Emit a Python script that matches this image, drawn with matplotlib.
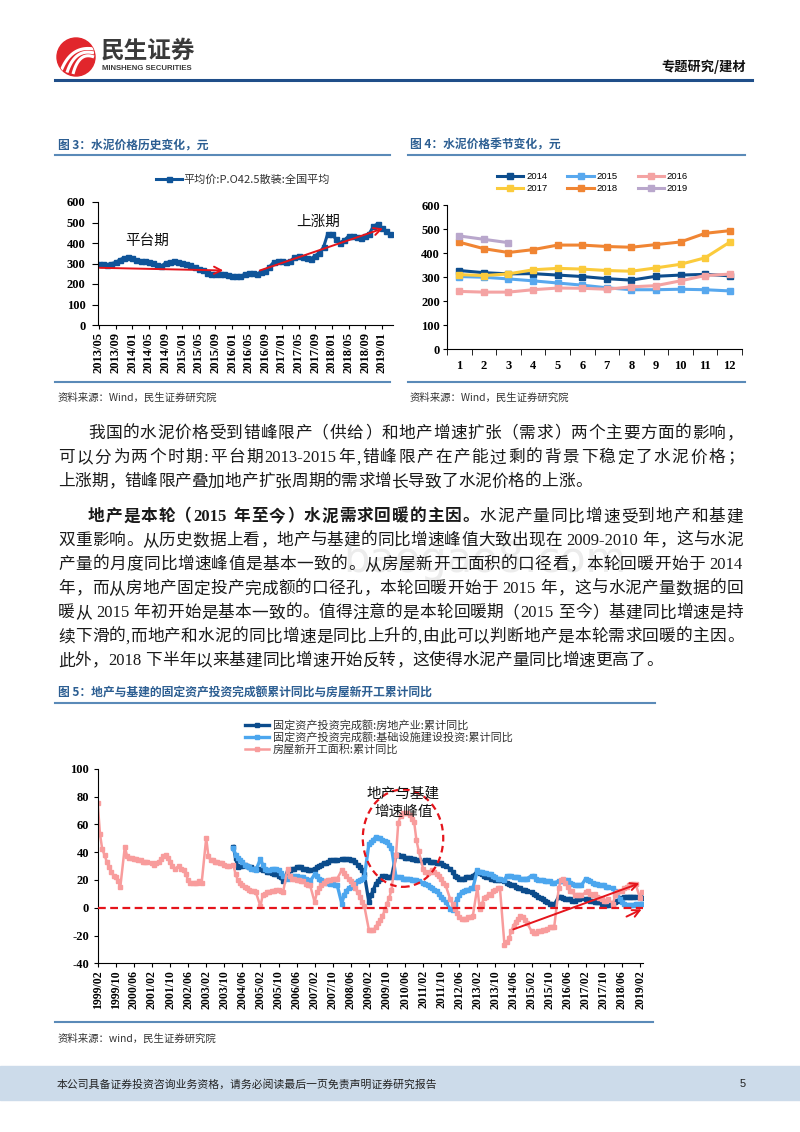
import numpy as np
import pandas as pd
import matplotlib
matplotlib.use('Agg')
import matplotlib.pyplot as plt
from matplotlib.patches import Ellipse, Circle, Rectangle

W, H = 800, 1132
CJK = 'Noto Sans CJK SC'
SERIF = 'Liberation Serif'
plt.rcParams['font.family'] = [CJK, 'DejaVu Sans']
plt.rcParams['axes.unicode_minus'] = False

# ---- 图3 / 图4: 水泥价格 (元) ----
price_2013 = [300, 298, 295, 300, 305, 318, 328, 330]   # 2013/05 - 2013/12
price_2014 = [327, 318, 313, 314, 308, 302, 293, 287, 303, 308, 311, 305]
price_2015 = [302, 299, 292, 284, 275, 266, 255, 247, 247, 249, 247, 242]
price_2016 = [240, 237, 237, 247, 254, 253, 249, 259, 264, 284, 306, 312]
price_2017 = [310, 306, 313, 330, 336, 333, 327, 324, 338, 353, 380, 445]
price_2018 = [445, 418, 402, 414, 433, 433, 427, 424, 435, 446, 482, 493]
price_2019 = [471, 457, 443]
season_years = ['2014', '2015', '2016', '2017', '2018', '2019']
season_colors = ['#0D4D8D', '#58A8EE', '#F4A3A3', '#FBCB3C', '#F08533', '#B9A7CC']

# ---- 图5: 累计同比 (%), 每年 2-12 月 (无 1 月) ----
starts_yoy = [  # 房屋新开工面积:累计同比, 1999/02 - 2019/03
    75, 53, 42, 38, 33, 29, 26, 23, 22, 19, 15,    # 1999
    44, 37, 36, 36, 35, 35, 34, 34, 33, 33, 33,    # 2000
    32, 31, 32, 33, 35, 37, 38, 36, 33, 30, 28,    # 2001
    30, 28, 27, 24, 20, 18, 18, 18, 18, 19, 18,    # 2002
    50, 37, 34, 34, 33, 33, 32, 32, 31, 30, 30,    # 2003
    31, 24, 20, 18, 16, 15, 14, 13, 12, 12, 11,    # 2004
    1, 9, 10, 11, 11, 12, 12, 13, 13, 12, 11,      # 2005
    28, 23, 21, 21, 20, 20, 19, 19, 17, 16, 16,    # 2006
    4, 11, 14, 16, 18, 19, 20, 20, 21, 21, 21,     # 2007
    27, 25, 23, 21, 19, 17, 14, 11, 8, 4, 1,       # 2008
    -16, -16, -16, -14, -11, -9, -6, -2, 3, 7, 13, # 2009
    38, 61, 66, 68, 68, 68, 67, 64, 62, 49, 41,    # 2010
    28, 26, 25, 26, 27, 26, 24, 23, 21, 18, 16,    # 2011
    6, 3, -1, -4, -7, -8, -8, -8, -7, -7, -6,      # 2012
    15, -1, 3, 7, 8, 10, 9, 12, 13, 14, 14,        # 2013
    -27, -25, -22, -17, -13, -10, -8, -6, -7, -9, -11,  # 2014
    -17, -18, -18, -17, -17, -16, -16, -15, -14, -14, -14,  # 2015
    14, 20, 21, 18, 15, 12, 12, 9, 9, 9, 9,        # 2016
    11, 12, 10, 9, 10, 8, 7, 6, 5, 5, 6,           # 2017
    3, 9, 11, 12, 12, 14, 15, 16, 17, 17, 17,      # 2018
    7, 11,                                         # 2019
]
realty_yoy = [  # 固定资产投资完成额:房地产业:累计同比, 2004/02 - 2019/03
    44, 36, 29, 30, 30, 31, 30, 29, 29, 28, 28,    # 2004
    28, 27, 27, 26, 26, 25, 24, 24, 23, 22, 19,    # 2005
    26, 27, 28, 28, 29, 29, 29, 28, 28, 27, 27,    # 2006
    28, 29, 30, 31, 32, 32, 33, 34, 34, 34, 34,    # 2007
    35, 35, 35, 35, 34, 34, 33, 31, 29, 27, 24,    # 2008
    4, 9, 13, 17, 19, 21, 23, 23, 22, 22, 22,      # 2009
    38, 38, 37, 37, 36, 36, 36, 35, 35, 34, 34,    # 2010
    33, 34, 34, 33, 33, 33, 32, 32, 32, 31, 30,    # 2011
    28, 26, 23, 22, 21, 21, 21, 22, 22, 22, 23,    # 2012
    26, 25, 24, 23, 22, 22, 21, 21, 20, 20, 20,    # 2013
    19, 18, 17, 16, 16, 15, 14, 14, 13, 13, 12,    # 2014
    11, 10, 9, 8, 7, 6, 5, 4, 3, 3, 2,             # 2015
    8, 8, 7, 6, 6, 6, 5, 5, 6, 6, 7,               # 2016
    6, 6, 5, 5, 4, 4, 4, 3, 3, 2, 2,               # 2017
    3, 4, 5, 6, 7, 8, 8, 8, 8, 8, 8,               # 2018
    8, 7,                                          # 2019
]
infra_yoy = [  # 固定资产投资完成额:基础设施建设投资:累计同比, 2004/02 - 2019/03
    43, 38, 36, 34, 33, 31, 30, 29, 28, 28, 27,    # 2004
    35, 31, 28, 27, 27, 28, 28, 28, 27, 25, 23,    # 2005
    21, 22, 23, 23, 23, 22, 22, 22, 21, 20, 19,    # 2006
    24, 23, 21, 20, 19, 18, 18, 17, 17, 16, 16,    # 2007
    3, 9, 12, 14, 15, 16, 18, 19, 20, 21, 22,      # 2008
    46, 47, 49, 51, 50, 50, 49, 48, 47, 45, 43,    # 2009
    22, 22, 22, 21, 21, 21, 21, 20, 20, 20, 19,    # 2010
    18, 17, 16, 15, 14, 13, 12, 10, 8, 6, 4,       # 2011
    -1, -2, 3, 6, 9, 11, 12, 13, 13, 14, 14,       # 2012
    27, 26, 26, 25, 25, 24, 24, 23, 22, 21, 21,    # 2013
    20, 23, 23, 23, 22, 22, 22, 21, 21, 21, 21,    # 2014
    23, 23, 21, 20, 20, 20, 19, 19, 19, 18, 18,    # 2015
    19, 19, 19, 20, 20, 18, 17, 16, 16, 16, 16,    # 2016
    21, 20, 19, 18, 17, 17, 16, 16, 16, 15, 15,    # 2017
    14, 12, 9, 6, 4, 3, 2, 2, 2, 2, 3,             # 2018
    3, 3,                                          # 2019
]

RED = '#E5141B'


def px_axes(x0, y0, x1, y1):
    ax = fig.add_axes([x0 / W, 1 - y1 / H, (x1 - x0) / W, (y1 - y0) / H])
    ax.set_facecolor('none')
    for s in ['top', 'right']:
        ax.spines[s].set_visible(False)
    return ax


def month_pos(start, n):
    d = pd.date_range(start, periods=n + n // 11 + 3, freq='MS')
    d = d[d.month != 1][:n]
    return np.asarray((d.year - 1999) * 12 + d.month - 2)


fig = plt.figure(figsize=(W / 100, H / 100), dpi=100)
page = fig.add_axes([0, 0, 1, 1])
page.set_xlim(0, W)
page.set_ylim(H, 0)
page.axis('off')
renderer = fig.canvas.get_renderer()

# ---------------- header ----------------
logo = Circle((76, 57), 19, color='#E1262C')
page.add_patch(logo)
t = np.linspace(0, 1, 30)
for k in range(3):
    p0 = np.array([61 + 6 * k, 71 + 1.5 * k])
    p1 = np.array([71 + 4 * k, 45 + 3 * k])
    p2 = np.array([94, 49 + 4 * k])
    pts = ((1 - t) ** 2)[:, None] * p0 + (2 * t * (1 - t))[:, None] * p1 + (t ** 2)[:, None] * p2
    ln, = page.plot(pts[:, 0], pts[:, 1], color='white', lw=2.2, solid_capstyle='butt')
    ln.set_clip_path(logo)
page.text(101, 51, '民生证券', fontsize=17, fontweight='bold', color='#3a3a3a', va='center')
page.text(102, 69, 'MINSHENG SECURITIES', fontsize=5.6, fontweight='bold',
          family='Liberation Sans', color='#3a3a3a', va='center')
page.text(746, 67, '专题研究/建材', fontsize=9.5, fontweight='bold', color='#111111',
          ha='right', va='center')
page.plot([55, 752], [79.5, 79.5], color='#1F4E89', lw=2.2)

# ---------------- section frames ----------------
TITLE_C = '#2C5E92'
RULE_C = '#5A8AB8'
page.text(58, 145, '图 3：水泥价格历史变化，元', fontsize=8.5, fontweight='bold', color=TITLE_C, va='center')
page.text(410, 145, '图 4：水泥价格季节变化，元', fontsize=8.5, fontweight='bold', color=TITLE_C, va='center')
page.plot([55, 390], [155, 155], color=RULE_C, lw=1.5)
page.plot([408, 745], [155, 155], color=RULE_C, lw=1.5)
page.plot([55, 390], [382, 382], color=RULE_C, lw=1.5)
page.plot([408, 745], [382, 382], color=RULE_C, lw=1.5)
page.text(58, 398, '资料来源：Wind，民生证券研究院', fontsize=7.5, color='#333333', va='center')
page.text(410, 398, '资料来源：Wind，民生证券研究院', fontsize=7.5, color='#333333', va='center')

page.text(58, 693, '图 5：地产与基建的固定资产投资完成额累计同比与房屋新开工累计同比',
          fontsize=8.5, fontweight='bold', color=TITLE_C, va='center')
page.plot([55, 655], [703, 703], color=RULE_C, lw=1.5)
page.plot([55, 653], [1022, 1022], color=RULE_C, lw=1.5)
page.text(58, 1039, '资料来源：wind，民生证券研究院', fontsize=7.5, color='#333333', va='center')

# watermark
page.text(485, 560, 'baogao8.com', fontsize=30, color='#ececec', ha='center', va='center',
          family='DejaVu Sans', zorder=0)

# ---------------- body text ----------------
def text_line(x0, y, parts, x1=None, size=12):
    em = size * 100 / 72
    toks = []
    for s, bold in parts:
        run = ''
        for ch in s:
            if ch == ' ' or ord(ch) > 127:
                if run:
                    toks.append((run, bold, 'a'))
                    run = ''
                toks.append((ch, bold, 's' if ch == ' ' else 'c'))
            else:
                run += ch
        if run:
            toks.append((run, bold, 'a'))
    items = []
    for s, bold, kind in toks:
        if kind == 's':
            items.append((None, em * 0.25, kind, s))
            continue
        fam = [SERIF] if kind == 'a' else [CJK]
        tx = page.text(0, y + 0.38 * em, s, fontsize=size, family=fam,
                       fontweight='bold' if bold else 'normal', va='baseline', ha='left',
                       color='#1a1a1a')
        w = em if kind == 'c' else tx.get_window_extent(renderer).width
        items.append((tx, w, kind, s))
    total = sum(it[1] for it in items)
    gap = 0 if x1 is None else (x1 - x0 - total) / (len(items) - 1)
    x = x0
    for tx, w, kind, s in items:
        if tx is not None:
            if kind == 'c':
                if s == '（':
                    tx.set_ha('right')
                    tx.set_x(x + w * 0.95)
                elif s in '，。；：、）':
                    tx.set_x(x + w * 0.05)
                else:
                    tx.set_ha('center')
                    tx.set_x(x + w / 2)
            else:
                tx.set_x(x)
        x += w + gap


R = 743
text_line(88, 431.5, [('我国的水泥价格受到错峰限产（供给）和地产增速扩张（需求）两个主要方面的影响，', False)], R)
text_line(58, 456, [('可以分为两个时期:平台期2013-2015年,错峰限产在产能过剩的背景下稳定了水泥价格；', False)], R)
text_line(58, 480, [('上涨期，错峰限产叠加地产扩张周期的需求增长导致了水泥价格的上涨。', False)])
text_line(88, 515, [('地产是本轮（2015 年至今）水泥需求回暖的主因。', True), ('水泥产量同比增速受到地产和基建', False)], R)
text_line(58, 538.5, [('双重影响。从历史数据上看，地产与基建的同比增速峰值大致出现在 2009-2010 年，这与水泥', False)], R)
text_line(58, 562.5, [('产量的月度同比增速峰值是基本一致的。从房屋新开工面积的口径看，本轮回暖开始于 2014', False)], R)
text_line(58, 587, [('年，而从房地产固定投产完成额的口径孔，本轮回暖开始于 2015 年，这与水泥产量数据的回', False)], R)
text_line(58, 611, [('暖从 2015 年初开始是基本一致的。值得注意的是本轮回暖期（2015 至今）基建同比增速是持', False)], R)
text_line(58, 635, [('续下滑的,而地产和水泥的同比增速是同比上升的,由此可以判断地产是本轮需求回暖的主因。', False)], R)
text_line(58, 659, [('此外，2018 下半年以来基建同比增速开始反转，这使得水泥产量同比增速更高了。', False)])

# ---------------- footer ----------------
page.add_patch(Rectangle((0, 1066), W, 34, color='#CCDBEA', zorder=0))
page.text(57, 1084, '本公司具备证券投资咨询业务资格，请务必阅读最后一页免责声明证券研究报告',
          fontsize=7.8, color='#222222', va='center')
page.text(746, 1084, '5', fontsize=8, color='#222222', ha='right', va='center', family='Liberation Sans')

tick_font = dict(fontfamily=SERIF, fontweight='bold', fontsize=9)

# ---------------- 图3 ----------------
hist_price = price_2013 + price_2014 + price_2015 + price_2016 + price_2017 + price_2018 + price_2019
hist_dates = pd.date_range('2013-05-01', periods=len(hist_price), freq='MS')
x3 = np.arange(len(hist_price))
ax3 = px_axes(98, 202, 393, 325)
line3, = ax3.plot(x3, hist_price, color='#0F5499', lw=2.2, marker='s', ms=3.6,
                  label='平均价:P.O42.5散装:全国平均')
ax3.set_xlim(-0.24, 70.7)
ax3.set_ylim(0, 600)
ax3.set_yticks(range(0, 601, 100), labels=[str(v) for v in range(0, 601, 100)], **tick_font)
ax3.set_xticks(x3[::4], labels=hist_dates[::4].strftime('%Y/%m'), rotation=90, **tick_font)
ax3.tick_params(axis='y', length=4, pad=5)
ax3.tick_params(axis='x', length=3, pad=2)
ax3.annotate('', xy=(29.9, 266), xytext=(0.2, 279),
             arrowprops=dict(arrowstyle='->', color=RED, lw=1.4, mutation_scale=13, shrinkA=0, shrinkB=0))
ax3.annotate('', xy=(68.3, 471), xytext=(38.7, 266),
             arrowprops=dict(arrowstyle='->', color=RED, lw=1.4, mutation_scale=13, shrinkA=0, shrinkB=0))
ax3.text(11.5, 411, '平台期', fontsize=10.5, ha='center', va='center', color='#111111')
ax3.text(52.6, 503, '上涨期', fontsize=10.5, ha='center', va='center', color='#111111')
fig.legend(handles=[line3], loc='center left', bbox_to_anchor=(156 / W, 1 - 180 / H),
           frameon=False, fontsize=8, handlelength=2.3, handletextpad=0.2,
           borderpad=0, borderaxespad=0, labelcolor='#333333')

# ---------------- 图4 ----------------
ax4 = px_axes(447, 205, 742, 349)
months = np.arange(1, 13)
season_vals = [price_2014, price_2015, price_2016, price_2017, price_2018, price_2019]
season_lines = []
for yr, vals, col in zip(season_years, season_vals, season_colors):
    ln, = ax4.plot(months[:len(vals)], vals, color=col, lw=2.2, marker='s', ms=3.8, label=yr)
    season_lines.append(ln)
ax4.set_xlim(0.5, 12.5)
ax4.set_ylim(0, 600)
ax4.set_yticks(range(0, 601, 100), labels=[str(v) for v in range(0, 601, 100)], **tick_font)
ax4.set_xticks(months, labels=[str(m) for m in months], **tick_font)
ax4.set_xticks(np.arange(0.5, 12.6, 1), minor=True)
ax4.tick_params(axis='x', which='major', length=0, pad=8)
ax4.tick_params(axis='x', which='minor', length=4)
ax4.tick_params(axis='y', length=3, pad=2)
# legend fills column-wise, so order handles to read row-wise 2014 2015 2016 / 2017 2018 2019
order = [0, 3, 1, 4, 2, 5]
ax4.legend(handles=[season_lines[i] for i in order], ncol=3, loc='center left',
           bbox_to_anchor=(497 / W, 1 - 182.5 / H),
           bbox_transform=fig.transFigure, frameon=False,
           prop={'family': 'Liberation Sans', 'size': 6.8}, handlelength=2.8,
           handletextpad=0.3, columnspacing=2.1, labelspacing=0.3,
           borderpad=0, borderaxespad=0)

# ---------------- 图5 ----------------
ax5 = px_axes(97.5, 768.7, 643, 963.3)
m_starts = month_pos('1999-02-01', len(starts_yoy))
m_fai = month_pos('2004-02-01', len(realty_yoy))
ax5.plot(m_fai, realty_yoy, color='#0B4C8C', lw=2.4, marker='s', ms=3.5,
         label='固定资产投资完成额:房地产业:累计同比')
ax5.plot(m_fai, infra_yoy, color='#4CA6EE', lw=2.4, marker='s', ms=3.5,
         label='固定资产投资完成额:基础设施建设投资:累计同比')
ax5.plot(m_starts, starts_yoy, color='#F89C9C', lw=1.8, marker='s', ms=3.5,
         label='房屋新开工面积:累计同比')
ax5.axhline(0, color=RED, ls=(0, (3.5, 2)), lw=1.6, zorder=4)
ax5.set_xlim(-0.1, 241.3)
ax5.set_ylim(-40, 100)
ax5.set_yticks(range(-40, 101, 20), labels=[str(v) for v in range(-40, 101, 20)], **tick_font)
tick_dates = pd.date_range('1999-02-01', '2019-02-01', freq='8MS')
ax5.set_xticks(np.arange(0, 241, 8), labels=tick_dates.strftime('%Y/%m'), rotation=90,
               fontfamily=SERIF, fontweight='bold', fontsize=8.5)
ax5.tick_params(axis='y', length=3, pad=3)
ax5.tick_params(axis='x', length=3, pad=2)
ax5.add_patch(Ellipse((135.1, 50), 35.6, 70, fill=False, ec=RED, ls=(0, (3, 2)), lw=1.6, zorder=5))
ax5.text(135.3, 82.3, '地产与基建', fontsize=10.5, ha='center', va='center', color='#111111', zorder=6)
ax5.text(135.3, 69, '增速峰值', fontsize=10.5, ha='center', va='center', color='#111111', zorder=6)
ax5.annotate('', xy=(239.7, 17.5), xytext=(183.9, -15.6),
             arrowprops=dict(arrowstyle='->', color=RED, lw=1.4, mutation_scale=13, shrinkA=0, shrinkB=0))
ax5.annotate('', xy=(240.7, -1.2), xytext=(234, -6.4),
             arrowprops=dict(arrowstyle='->', color=RED, lw=1.4, mutation_scale=13, shrinkA=0, shrinkB=0))
ax5.legend(loc='center left', bbox_to_anchor=(245 / W, 1 - 737 / H), bbox_transform=fig.transFigure,
           frameon=False, fontsize=8, handlelength=2.2, handletextpad=0.3, labelspacing=0.1,
           borderpad=0, borderaxespad=0, labelcolor='#333333')

fig.savefig('out.png', dpi=100)
